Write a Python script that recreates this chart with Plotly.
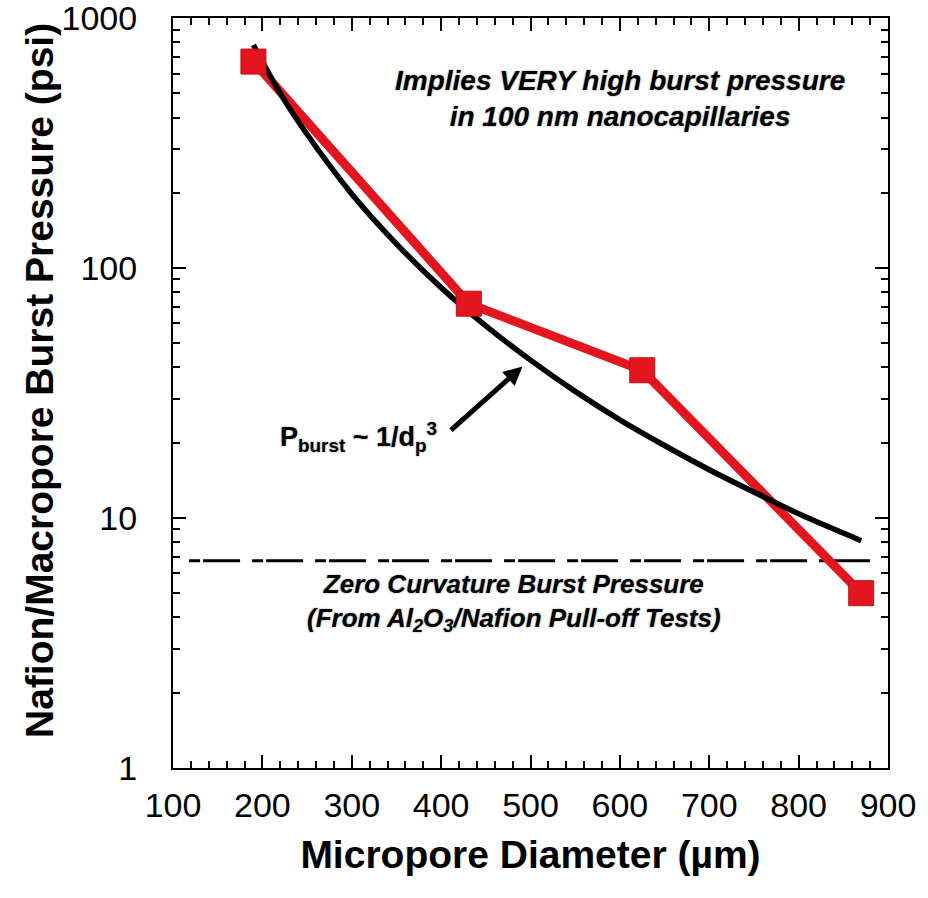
import plotly.graph_objects as go

# ---- data ----
meas_d = [190, 431, 625, 870]          # micropore diameter (um)
meas_p = [670, 72, 39, 5.0]            # burst pressure (psi)

fit_d = [190, 220, 250, 300, 350, 400, 450, 500, 550, 600, 650, 700, 750, 800, 850, 870]
fit_p = [780, 500, 343, 198, 125, 83.5, 58.7, 42.8, 32.1, 24.7, 19.5, 15.6, 12.7, 10.4, 8.7, 8.1]

zero_curv_d = [118, 887]
zero_curv_p = [6.75, 6.75]

x_tickvals = [100, 200, 300, 400, 500, 600, 700, 800, 900]
y_tickvals = [1, 10, 100, 1000]
y_ticktext = ["1", "10", "100", "1000"]
y_minorvals = [m * d for d in (1, 10, 100) for m in range(2, 10)]

FONT = "Liberation Sans, Arial, Helvetica, sans-serif"
RED = "#E3161F"
SHADOW = "0px 0px 2px #8a8a8a"

fig = go.Figure()

fig.add_trace(go.Scatter(
    x=zero_curv_d, y=zero_curv_p, mode="lines",
    line=dict(color="black", width=3, dash="11px,3px,37px,12px"),
    hoverinfo="skip", showlegend=False))

fig.add_trace(go.Scatter(
    x=meas_d, y=meas_p, mode="lines",
    line=dict(color=RED, width=9),
    showlegend=False))

fig.add_trace(go.Scatter(
    x=fit_d, y=fit_p, mode="lines",
    line=dict(color="black", width=5.5, shape="spline"),
    showlegend=False))

fig.add_trace(go.Scatter(
    x=meas_d, y=meas_p, mode="markers",
    marker=dict(symbol="square", size=25, color=RED,
                line=dict(color="#C0101A", width=1)),
    showlegend=False))

ann_font = dict(family=FONT, size=26, color="black", weight="bold",
                style="italic", shadow=SHADOW)

fig.add_annotation(
    x=600, y=2.677, xref="x", yref="y",
    text="Implies VERY high burst pressure<br>in 100 nm nanocapillaries",
    showarrow=False, align="center", font={**ann_font, "size": 28})

fig.add_annotation(
    x=482, y=0.662, xref="x", yref="y",
    text="Zero Curvature Burst Pressure<br>(From Al<sub>2</sub>O<sub>3</sub>/Nafion Pull-off Tests)",
    showarrow=False, align="center", font=ann_font)

fig.add_annotation(
    x=307, y=1.323, xref="x", yref="y",
    text="P<sub>burst</sub> ~ 1/d<sub>p</sub><sup>3</sup>",
    showarrow=False, align="center",
    font=dict(family=FONT, size=27, color="black", weight="bold", shadow=SHADOW))

fig.add_annotation(
    x=491, y=1.606, xref="x", yref="y",
    ax=-73, ay=65, axref="pixel", ayref="pixel",
    text="", showarrow=True, arrowhead=2, arrowsize=0.75,
    arrowwidth=5, arrowcolor="black")

# y-axis title placed as a rotated annotation for exact positioning
fig.add_annotation(
    x=0, y=0.5, xref="paper", yref="paper",
    xanchor="center", yanchor="middle", xshift=-134, yshift=12,
    text="Nafion/Macropore Burst Pressure (psi)", textangle=-90,
    showarrow=False,
    font=dict(family=FONT, size=39, color="black", weight="bold"))

axis_common = dict(
    showline=True, linecolor="black", linewidth=2, mirror="allticks",
    ticks="inside", tickcolor="black", tickwidth=2,
    showgrid=False, zeroline=False, ticklabeloverflow="allow",
    tickfont=dict(family=FONT, size=34, color="black"),
)

fig.update_xaxes(
    range=[100, 900], tickvals=x_tickvals, ticklen=13,
    ticklabelstandoff=6,
    minor=dict(ticks="inside", dtick=20, ticklen=7, tickwidth=2,
               tickcolor="black", showgrid=False),
    title=dict(text="Micropore Diameter (µm)", standoff=18,
               font=dict(family=FONT, size=39, color="black", weight="bold")),
    **axis_common)

fig.update_yaxes(
    type="log", range=[-0.0004, 3.0004], tickvals=y_tickvals, ticktext=y_ticktext,
    ticklen=13, ticklabelstandoff=27,
    minor=dict(ticks="inside", tickvals=y_minorvals, ticklen=7, tickwidth=2,
               tickcolor="black", showgrid=False),
    **axis_common)

fig.update_layout(
    width=928, height=898,
    margin=dict(l=173, r=40, t=18, b=130, autoexpand=False),
    plot_bgcolor="white", paper_bgcolor="white",
    showlegend=False,
)

# remove the default 8px page margin so the figure fills the window exactly
fig.write_html("out.html", config={"displayModeBar": False},
               post_script="document.body.style.margin='0';")
